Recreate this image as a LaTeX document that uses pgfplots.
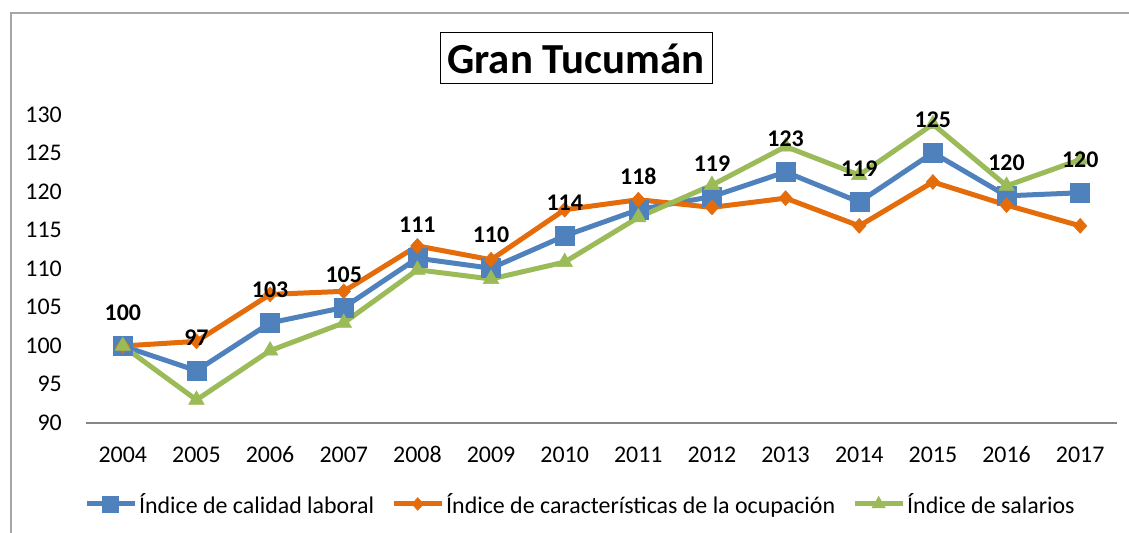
\documentclass[border=0pt]{standalone}
\usepackage{pgfplots}
\pgfplotsset{compat=1.18}
\usepackage{pgfplotstable}
\usepackage{fontspec}
\setmainfont{Carlito}
\definecolor{cblue}{HTML}{4F81BD}
\definecolor{corange}{HTML}{E46C0A}
\definecolor{cgreen}{HTML}{9BBB59}
\definecolor{axgray}{HTML}{868686}
\definecolor{framegray}{HTML}{A6A6A6}

\pgfplotstableread{
x y lab
0 100.0 100
1 96.8 97
2 103.0 103
3 105.0 105
4 111.4 111
5 110.1 110
6 114.3 114
7 117.7 118
8 119.4 119
9 122.6 123
10 118.7 119
11 125.1 125
12 119.5 120
13 119.9 120
}\calidad

\pgfplotstableread{
x y
0 100.0
1 100.6
2 106.7
3 107.1
4 113.0
5 111.2
6 117.7
7 119.0
8 118.0
9 119.2
10 115.6
11 121.3
12 118.3
13 115.6
}\caracteristicas

\pgfplotstableread{
x y
0 100.0
1 93.0
2 99.4
3 103.0
4 109.9
5 108.7
6 110.9
7 116.7
8 120.9
9 125.9
10 122.2
11 128.8
12 120.8
13 124.2
}\salarios

\begin{document}
\begin{tikzpicture}[x=1bp,y=1bp]
\useasboundingbox (0,0) rectangle (1129,533);
\draw[framegray, line width=1.5bp] (11,0) -- (11,520) -- (1129,520);
\node[draw=black, line width=1bp, inner sep=0pt, minimum width=272bp, minimum height=51bp,
  font=\fontsize{43}{50}\selectfont\bfseries] at (576,474.5) {Gran Tucumán};
\begin{axis}[
  at={(86bp,110bp)}, anchor=south west,
  scale only axis, width=1031bp, height=308bp,
  xmin=-0.5, xmax=13.5, ymin=90, ymax=130,
  ytick={90,95,...,130},
  xtick={0,...,13},
  xticklabels={2004,2005,2006,2007,2008,2009,2010,2011,2012,2013,2014,2015,2016,2017},
  axis x line*=bottom, axis y line*=left,
  x axis line style={draw=axgray, line width=2bp, -},
  y axis line style={draw=none},
  major tick length=0pt,
  tick style={draw=none},
  /pgf/number format/assume math mode=true,
  /pgf/number format/.cd, 1000 sep={}, /pgfplots/.cd,
  ticklabel style={font=\fontsize{24}{28}\selectfont, inner sep=0pt, text height=15bp, text depth=0pt},
  yticklabel style={anchor=east, xshift=-24bp},
  xticklabel style={anchor=north, yshift=-24bp},
  clip=false,
  legend columns=3,
  legend style={at={(0.479,-0.263)}, anchor=center, draw=none,
    font=\fontsize{24}{28}\selectfont, inner sep=0pt,
    nodes={inner sep=1bp},
    /tikz/every odd column/.append style={column sep=1bp},
    /tikz/every even column/.append style={column sep=16bp}},
  legend image code/.code={\draw[#1, mark repeat=2, mark phase=2, line width=5bp, every mark/.append style={scale=0.85}] plot coordinates {(0bp,0bp) (24bp,0bp) (48bp,0bp)};},
]
\addplot[cblue, line width=5bp, mark=square*, mark size=9.5bp, mark options={solid, line width=0.5bp}] table[x=x,y=y] {\calidad};
\addlegendentry{Índice de calidad laboral}
\addplot[corange, line width=5bp, mark=diamond*, mark size=7.5bp, mark options={solid, line width=0.5bp, xscale=1.2}] table[x=x,y=y] {\caracteristicas};
\addlegendentry{Índice de características de la ocupación}
\addplot[cgreen, line width=5bp, mark=triangle*, mark size=9bp, mark options={solid, line width=0.5bp}] table[x=x,y=y] {\salarios};
\addlegendentry{Índice de salarios}
\addplot[draw=none, mark=none, forget plot,
  point meta=explicit symbolic,
  nodes near coords,
  nodes near coords style={anchor=center, yshift=33bp, black, inner sep=0pt,
    font=\fontsize{24}{28}\selectfont\bfseries}]
  table[x=x,y=y,meta=lab] {\calidad};
\end{axis}
\end{tikzpicture}
\end{document}
